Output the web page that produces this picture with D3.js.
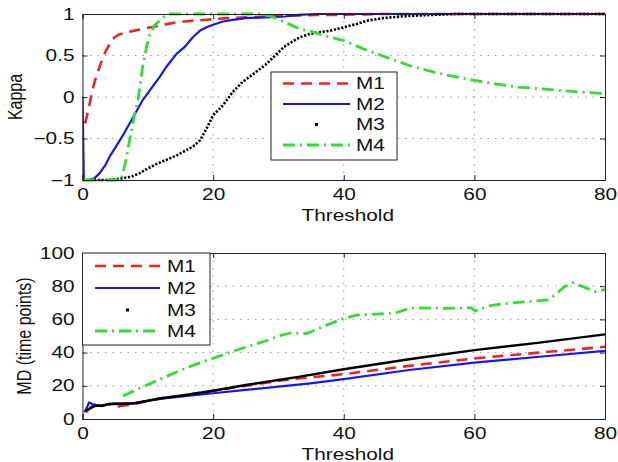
<!DOCTYPE html>
<html>
<head>
<meta charset="utf-8">
<script src="https://cdn.jsdelivr.net/npm/d3@7/dist/d3.min.js"></script>
<style>
  html, body { margin: 0; padding: 0; background: #fff; }
  svg { display: block; }
  text { font-family: "Liberation Sans", Arial, Helvetica, sans-serif; fill: #111; }
</style>
</head>
<body>
<svg id="chart" width="618" height="462"></svg>
<script>
// ---------------- DATA ----------------
const seriesNames = ["M1", "M2", "M3", "M4"];
const xTicks = [0, 20, 40, 60, 80];
const xTickLabels = ["0", "20", "40", "60", "80"];
const kappaTicks = [-1, -0.5, 0, 0.5, 1];
const kappaTickLabels = ["\u22121", "\u22120.5", "0", "0.5", "1"];
const mdTicks = [0, 20, 40, 60, 80, 100];
const mdTickLabels = ["0", "20", "40", "60", "80", "100"];

// Top panel (Kappa)
const kM1x = [0.4, 1, 1.5, 2, 2.6, 3.1, 3.6, 4.6, 5.5, 6.7, 8, 9.2, 10.5, 11.8, 14.4, 17, 19, 22, 25, 28, 32, 36, 40, 45, 50, 60, 70, 80];
const kM1y = [-0.32, -0.12, 0.08, 0.22, 0.36, 0.47, 0.56, 0.7, 0.75, 0.78, 0.8, 0.82, 0.84, 0.86, 0.9, 0.92, 0.93, 0.95, 0.96, 0.97, 0.98, 0.99, 0.99, 1, 1, 1, 1, 1];
const kM2x = [0, 0.2, 1, 1.8, 2.6, 3.5, 4.3, 5.1, 6.2, 7.2, 8.2, 9.2, 10.5, 11.8, 13, 14.4, 15.6, 16.9, 18, 19, 20, 21.5, 23, 25, 28, 31, 33, 36, 40, 50, 60, 70, 80];
const kM2y = [0, -1, -1, -0.98, -0.92, -0.82, -0.7, -0.6, -0.46, -0.32, -0.18, -0.04, 0.1, 0.24, 0.38, 0.52, 0.6, 0.72, 0.8, 0.84, 0.87, 0.91, 0.93, 0.95, 0.96, 0.97, 0.99, 1, 1, 1, 1, 1, 1];
const kM3x = [0, 2, 4, 6, 7.5, 8.7, 10, 11.5, 12.8, 14.5, 16.4, 17.2, 18, 19, 20, 21.5, 23, 24.5, 26.2, 28.2, 29.5, 30.8, 32, 33.3, 34.8, 36.4, 38, 40, 42, 43.6, 46, 48.7, 51, 53.8, 57, 60, 70, 80];
const kM3y = [-1, -1, -1, -0.98, -0.96, -0.92, -0.86, -0.8, -0.76, -0.7, -0.62, -0.58, -0.52, -0.38, -0.22, -0.1, 0.06, 0.18, 0.28, 0.4, 0.5, 0.6, 0.66, 0.72, 0.76, 0.78, 0.8, 0.84, 0.88, 0.92, 0.95, 0.97, 0.98, 0.99, 1, 1, 1, 1];
const kM4x = [0, 3, 5.9, 6.6, 7.4, 8, 8.5, 9.2, 9.8, 10.3, 11, 11.8, 12.5, 13.3, 16, 20, 24, 27, 29, 31.3, 33.3, 35, 37, 40, 43, 47.2, 50, 52.8, 56, 60, 63, 66.7, 70, 73, 76, 80];
const kM4y = [-1, -1, -1, -0.78, -0.44, -0.2, -0.04, 0.36, 0.6, 0.76, 0.86, 0.92, 0.97, 1, 1, 1, 1, 1, 0.97, 0.89, 0.82, 0.79, 0.74, 0.68, 0.58, 0.46, 0.38, 0.32, 0.26, 0.2, 0.16, 0.12, 0.1, 0.08, 0.06, 0.04];

// Bottom panel (MD)
const mM1x = [0.5, 1, 1.5, 2, 3, 4, 5, 5.5, 6, 7, 8, 10, 12, 15, 20, 25, 30, 33.3, 40, 50, 60, 70, 80];
const mM1y = [4, 6, 8, 7, 8, 9, 8, 7.5, 8, 8.5, 9, 11, 12.5, 14, 17, 20, 23, 24.5, 27, 32, 36.5, 40, 43.5];
const mM2x = [0.3, 0.7, 1, 1.5, 2, 3, 4, 5, 6, 7.7, 10, 12.8, 15, 20, 25, 30, 34.9, 40, 50, 60, 70, 80];
const mM2y = [4, 7, 10, 9, 8.5, 8, 9, 9.5, 9.5, 9.4, 11, 12.5, 13.5, 15.5, 17.5, 19.5, 21.5, 24, 29.5, 34, 37.5, 41];
const mM3x = [0.5, 1, 2, 3, 4, 5, 6, 8, 10, 12, 15, 20, 25, 30, 33.3, 40, 50, 60, 70, 80];
const mM3y = [5, 6, 8, 8, 9, 9, 9, 9.5, 11, 12.5, 14, 17, 20.5, 23.5, 25.5, 30, 36, 41.5, 46, 51];
const mM4x = [6.2, 9, 12.8, 16, 20, 24, 28, 30, 32, 34.4, 37, 40, 42, 44, 46.7, 48, 50.3, 55.4, 59.5, 60.2, 62, 64.1, 68.2, 71.3, 72.3, 73.8, 75.1, 76.9, 78.5, 80];
const mM4y = [13.9, 19, 25.5, 31, 36.6, 42, 47, 50, 52, 51.5, 56, 60.6, 62.6, 63, 63.5, 64, 67, 66.7, 67, 65, 68, 69.3, 70.7, 71.7, 74.7, 79.7, 82, 79.3, 76.7, 78];

// ---------------- STYLES ----------------
const colors = { M1: "#ee2424", M2: "#1818e6", M3: "#000000", M4: "#33dd33" };
const SX = 1.3;      // horizontal stretch of text in reference
const FS = 16;

const svg = d3.select("#chart");

function addText(g, x, y, str, anchor, rot, baseline) {
  const t = g.append("text")
    .attr("transform", `translate(${x},${y}) scale(${SX},1)` + (rot ? ` rotate(${rot})` : ""))
    .attr("text-anchor", anchor || "middle")
    .style("font-size", FS + "px")
    .text(str);
  if (baseline === "central") t.attr("dy", "0.35em");
  return t;
}

function zip(xs, ys) { return xs.map((x, i) => [x, ys[i]]); }

function panel(cfg) {
  const x = d3.scaleLinear().domain([0, 80]).range([cfg.left, cfg.right]);
  const y = d3.scaleLinear().domain(cfg.yDomain).range([cfg.bottom, cfg.top]);
  const g = svg.append("g");

  // grid
  const grid = g.append("g");
  xTicks.slice(1, -1).forEach(v => {
    grid.append("line").attr("x1", x(v)).attr("x2", x(v)).attr("y1", cfg.top).attr("y2", cfg.bottom)
      .attr("stroke", "#9a9a9a").attr("stroke-width", 1).attr("stroke-dasharray", "1.5,6");
  });
  cfg.yTicks.slice(1, -1).forEach(v => {
    grid.append("line").attr("x1", cfg.left).attr("x2", cfg.right).attr("y1", y(v)).attr("y2", y(v))
      .attr("stroke", "#9a9a9a").attr("stroke-width", 1).attr("stroke-dasharray", "1.5,6");
  });

  // clip
  const cid = "clip" + cfg.id;
  svg.append("clipPath").attr("id", cid).append("rect")
    .attr("x", cfg.left).attr("y", cfg.top - 2).attr("width", cfg.right - cfg.left).attr("height", cfg.bottom - cfg.top + 4);

  const line = d3.line().x(d => x(d[0])).y(d => y(d[1]));
  const lines = g.append("g").attr("clip-path", `url(#${cid})`);
  cfg.series.forEach(s => {
    lines.append("path").attr("d", line(zip(s.x, s.y)))
      .attr("fill", "none").attr("stroke", colors[s.name])
      .attr("stroke-width", s.w).attr("stroke-dasharray", s.dash || null)
      .attr("stroke-linecap", s.cap || "butt").attr("stroke-linejoin", "round");
  });

  // axes (ticks inside)
  const ax = g.append("g").attr("class", "axes");
  const xb = d3.axisBottom(x).tickValues(xTicks).tickSize(-5).tickPadding(8.5)
    .tickFormat((d, i) => xTickLabels[i]);
  const xt = d3.axisTop(x).tickValues(xTicks).tickSize(-5).tickFormat("");
  const yl = d3.axisLeft(y).tickValues(cfg.yTicks).tickSize(-5).tickPadding(8 / SX)
    .tickFormat((d, i) => cfg.yLabels[i]);
  const yr = d3.axisRight(y).tickValues(cfg.yTicks).tickSize(-5).tickFormat("");
  const gx = ax.append("g").attr("transform", `translate(0,${cfg.bottom})`).call(xb);
  ax.append("g").attr("transform", `translate(0,${cfg.top})`).call(xt);
  const gy = ax.append("g").attr("transform", `translate(${cfg.left},0)`).call(yl);
  ax.append("g").attr("transform", `translate(${cfg.right},0)`).call(yr);
  ax.selectAll(".domain").attr("stroke", "#222").attr("stroke-width", 1);
  ax.selectAll(".tick line").attr("stroke", "#222");
  ax.selectAll("text").style("font-size", FS + "px").style("font-family", null).attr("fill", "#111");
  gx.selectAll(".tick text").attr("transform", `scale(${SX},1)`);
  gy.selectAll(".tick text").attr("transform", `scale(${SX},1)`);

  // axis labels
  addText(g, (cfg.left + cfg.right) / 2 + 4, cfg.bottom + 40.5, "Threshold", "middle");
  addText(g, cfg.ylabelX, (cfg.top + cfg.bottom) / 2, cfg.ylabel, "middle", -90);

  // legend
  const L = cfg.legend;
  const lg = g.append("g");
  lg.append("rect").attr("x", L.x).attr("y", L.y).attr("width", L.w).attr("height", L.h)
    .attr("fill", "#fff").attr("stroke", "#222").attr("stroke-width", 1);
  cfg.series.forEach((s, i) => {
    const yy = L.y + L.rows[i];
    if (s.name === "M3") {
      lg.append("rect").attr("x", (L.x1 + L.x2) / 2 - 1.5).attr("y", yy - 1.5).attr("width", 3).attr("height", 3).attr("fill", "#000");
    } else {
      lg.append("line").attr("x1", L.x1).attr("x2", L.x2).attr("y1", yy).attr("y2", yy)
        .attr("stroke", colors[s.name]).attr("stroke-width", s.w).attr("stroke-dasharray", s.ldash || s.dash || null);
    }
    addText(lg, L.tx, yy, s.name, "start", null, "central");
  });
}

panel({
  id: "k", left: 82.5, right: 605, top: 14, bottom: 180,
  yDomain: [-1, 1], yTicks: kappaTicks, yLabels: kappaTickLabels,
  ylabel: "Kappa", ylabelX: 22,
  series: [
    { name: "M1", x: kM1x, y: kM1y, w: 2.6, dash: "11,7" },
    { name: "M2", x: kM2x, y: kM2y, w: 2.2 },
    { name: "M3", x: kM3x, y: kM3y, w: 2.6, dash: "2.2,1.6" },
    { name: "M4", x: kM4x, y: kM4y, w: 2.8, dash: "12,5,2,5", ldash: "12,5,2,5" }
  ],
  legend: { x: 271, y: 72, w: 126, h: 88, rows: [11.5, 32, 52.5, 73], x1: 283, x2: 350, tx: 356 }
});

panel({
  id: "m", left: 82.5, right: 605, top: 253, bottom: 419,
  yDomain: [0, 100], yTicks: mdTicks, yLabels: mdTickLabels,
  ylabel: "MD (time points)", ylabelX: 31,
  series: [
    { name: "M1", x: mM1x, y: mM1y, w: 2.6, dash: "11,7" },
    { name: "M2", x: mM2x, y: mM2y, w: 2.2 },
    { name: "M3", x: mM3x, y: mM3y, w: 2.4 },
    { name: "M4", x: mM4x, y: mM4y, w: 2.8, dash: "12,5,2,5", ldash: "12,5,2,5" }
  ],
  legend: { x: 82.5, y: 253, w: 127.5, h: 92, rows: [13, 35, 57, 78], x1: 95, x2: 160, tx: 167 }
});
</script>
</body>
</html>
